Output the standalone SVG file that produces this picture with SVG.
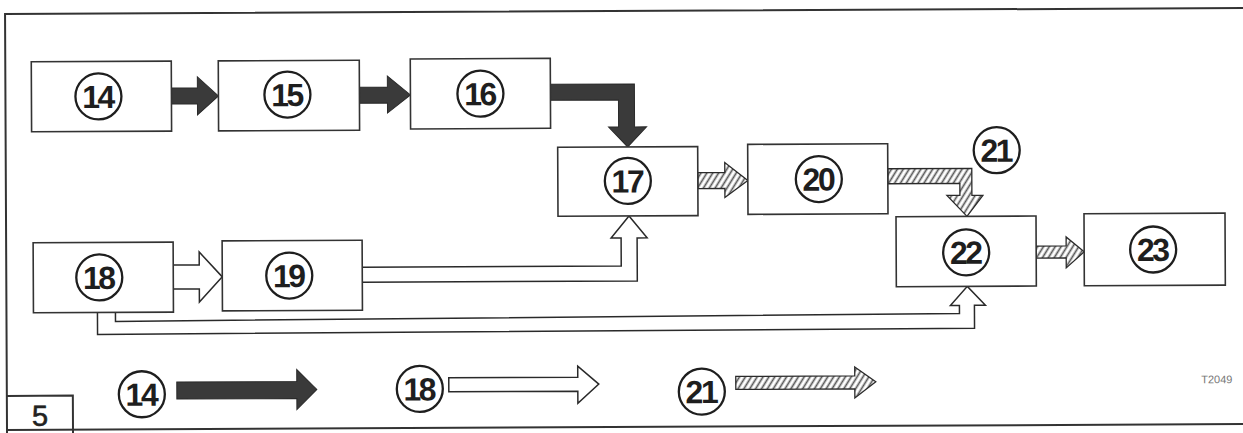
<svg xmlns="http://www.w3.org/2000/svg" width="1243" height="433" viewBox="0 0 1243 433">
<style>
.box{fill:#fff;stroke:#333;stroke-width:1.6}
.ring{fill:none;stroke:#1e1e1e;stroke-width:2.3}
.num{font-family:"Liberation Sans",Arial,sans-serif;font-weight:bold;font-size:32px;fill:#1e1e1e;text-anchor:middle;letter-spacing:-2.5px}
.dark{fill:#3a3a3a;stroke:#2a2a2a;stroke-width:1}
.hollow{fill:#fff;stroke:#2a2a2a;stroke-width:1.5;stroke-linejoin:miter}
.hatch{fill:url(#hat);stroke:#2a2a2a;stroke-width:1.3}
.frame{fill:none;stroke:#333;stroke-width:2}
</style>
<defs>
<pattern id="hat" patternUnits="userSpaceOnUse" width="5" height="5" patternTransform="rotate(32)">
<rect width="5" height="5" fill="#fff"/>
<line x1="1.5" y1="0" x2="1.5" y2="5" stroke="#555" stroke-width="1.7"/>
</pattern>
</defs>
<rect width="1243" height="433" fill="#fff"/>
<g transform="rotate(-0.27 620 216)">
<g id="frame">
<path class="frame" d="M1250,11 L6,11 L6,440"/>
<path class="frame" d="M6,427 L1250,427"/>
<path class="frame" d="M6,393 L72,393 L72,440"/>
<text x="39" y="423" font-family="'Liberation Sans',Arial,sans-serif" font-size="29" fill="#222" stroke="#222" stroke-width="0.6" text-anchor="middle">5</text>
<text x="1216" y="386" font-family="'Liberation Sans',Arial,sans-serif" font-size="11" fill="#777" text-anchor="middle">T2049</text>
</g>
<g id="connectors">
<path class="dark" d="M172,86 L198,86 L198,75 L219,94 L198,113 L198,102 L172,102 Z"/>
<path class="dark" d="M360,86 L388,86 L388,75 L411,94 L388,112 L388,102 L360,102 Z"/>
<path class="dark" d="M551,84 L635,84 L635,127 L647,127 L628,147 L609,127 L619,127 L619,100 L551,100 Z"/>
<path class="hatch" d="M698,173 L725,173 L725,163 L748,181 L725,198 L725,189 L698,189 Z"/>
<path class="hatch" d="M888,170 L972,170 L972,197 L983,197 L967,218 L947,197 L960,197 L960,185 L888,185 Z"/>
<path class="hatch" d="M1036,248 L1066,248 L1066,239 L1084,254 L1066,270 L1066,260 L1036,260 Z"/>
<path class="hollow" d="M172,263 L199,263 L199,250 L222,275 L199,300 L199,287 L172,287 Z"/>
<path class="hollow" d="M362,266 L621,266 L621,238 L611,238 L629,216 L647,238 L637,238 L637,281 L362,281"/>
<path class="hollow" d="M115,310 L115,319 L959,315 L959,307 L950,307 L967,288 L985,307 L974,307 L974,330 L97,332 L97,310"/>
</g>
<g id="n14"><rect class="box" x="32" y="59" width="140" height="70"/><circle class="ring" cx="99" cy="94" r="23"/><text class="num" x="98" y="105.5">14</text></g>
<g id="n15"><rect class="box" x="219" y="59" width="141" height="70"/><circle class="ring" cx="288" cy="93" r="23"/><text class="num" x="287" y="104.5">15</text></g>
<g id="n16"><rect class="box" x="411" y="58" width="140" height="70"/><circle class="ring" cx="481" cy="93" r="23"/><text class="num" x="480" y="104.5">16</text></g>
<g id="n17"><rect class="box" x="558" y="147" width="140" height="69"/><circle class="ring" cx="628" cy="181" r="23"/><text class="num" x="627" y="192.5">17</text></g>
<g id="n20"><rect class="box" x="748" y="145" width="140" height="70"/><circle class="ring" cx="819" cy="180" r="23"/><text class="num" x="818" y="191.5">20</text></g>
<g id="n21"><circle class="ring" cx="997" cy="152" r="23"/><text class="num" x="996" y="163.5">21</text></g>
<g id="n22"><rect class="box" x="896" y="218" width="140" height="70"/><circle class="ring" cx="966" cy="254" r="23"/><text class="num" x="965" y="265.5">22</text></g>
<g id="n23"><rect class="box" x="1084" y="216" width="141" height="72"/><circle class="ring" cx="1153" cy="252" r="23"/><text class="num" x="1152" y="263.5">23</text></g>
<g id="n18"><rect class="box" x="33" y="240" width="140" height="70"/><circle class="ring" cx="99" cy="275" r="23"/><text class="num" x="98" y="286.5">18</text></g>
<g id="n19"><rect class="box" x="222" y="239" width="140" height="70"/><circle class="ring" cx="289" cy="274" r="23"/><text class="num" x="288" y="285.5">19</text></g>
<g id="legend">
<circle class="ring" cx="141" cy="392" r="23"/><text class="num" x="140" y="403.5">14</text>
<path class="dark" d="M176,380 L296,380 L296,368 L316,388 L296,408 L296,397 L176,397 Z"/>
<circle class="ring" cx="419" cy="388" r="23"/><text class="num" x="418" y="399.5">18</text>
<path class="hollow" d="M448,377 L577,377 L577,366 L598,384 L577,403 L577,391 L448,391 Z"/>
<circle class="ring" cx="701" cy="392" r="23"/><text class="num" x="700" y="403.5">21</text>
<path class="hatch" d="M735,377 L854,377 L854,368 L875,383 L854,399 L854,390 L735,390 Z"/>
</g>
</g>
</svg>
